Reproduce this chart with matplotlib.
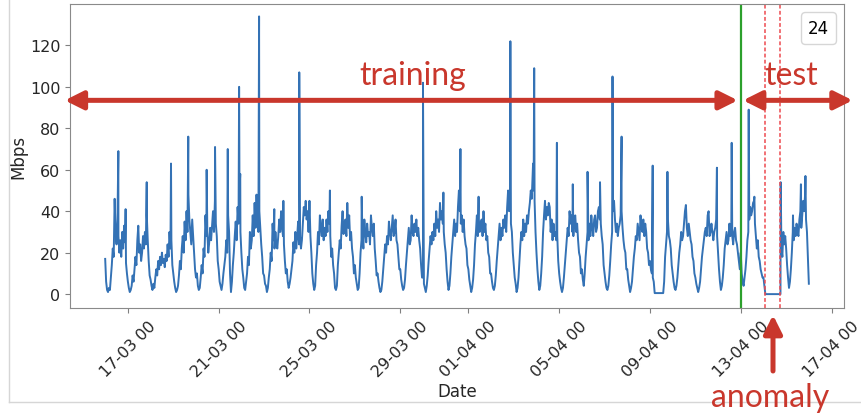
import matplotlib
matplotlib.use("Agg")
import matplotlib.pyplot as plt
import matplotlib.dates as mdates
from matplotlib.lines import Line2D
import pandas as pd

# traffic in Mbps, one row per day (16-03 .. 15-04), one value per hour
start_day = "2021-03-16"
hourly_mbps = [
    [17, 6, 2, 1, 3, 2, 8, 14, 22, 18, 46, 30, 24, 36, 28, 20, 26, 18, 30, 22, 33, 25, 15, 10],   # 16-03
    [6, 3, 1, 2, 4, 9, 6, 12, 18, 14, 26, 33, 20, 24, 16, 20, 28, 22, 30, 24, 38, 26, 16, 9],      # 17-03
    [7, 4, 2, 5, 3, 8, 12, 9, 16, 12, 18, 14, 20, 15, 17, 13, 19, 16, 24, 18, 30, 22, 26, 14],     # 18-03
    [10, 6, 3, 1, 2, 4, 9, 16, 12, 22, 28, 20, 35, 26, 40, 30, 48, 36, 30, 24, 36, 28, 20, 12],   # 19-03
    [8, 10, 4, 2, 3, 8, 14, 10, 22, 18, 38, 28, 30, 20, 25, 32, 26, 33, 40, 30, 45, 34, 28, 16],  # 20-03
    [12, 6, 4, 2, 5, 10, 14, 18, 26, 20, 38, 30, 10, 1, 6, 14, 20, 28, 35, 26, 42, 34, 50, 30],   # 21-03
    [20, 12, 8, 3, 2, 6, 10, 18, 14, 30, 22, 26, 38, 28, 44, 32, 48, 36, 30, 40, 32, 24, 18, 10], # 22-03
    [9, 5, 4, 1, 3, 8, 12, 20, 16, 34, 26, 22, 30, 24, 22, 28, 36, 30, 40, 32, 28, 24, 16, 10],   # 23-03
    [12, 6, 3, 5, 8, 12, 16, 25, 20, 30, 22, 28, 35, 24, 28, 22, 26, 34, 42, 38, 45, 36, 40, 30], # 24-03
    [45, 28, 20, 10, 5, 2, 4, 14, 20, 30, 24, 38, 32, 28, 36, 26, 32, 28, 36, 30, 40, 34, 28, 18],# 25-03
    [22, 14, 10, 3, 2, 4, 14, 20, 26, 22, 33, 40, 29, 34, 36, 28, 44, 32, 38, 26, 30, 22, 18, 10],# 26-03
    [14, 8, 5, 2, 3, 10, 20, 26, 28, 22, 36, 30, 25, 34, 28, 30, 24, 38, 32, 28, 34, 22, 16, 9],  # 27-03
    [10, 6, 3, 1, 2, 6, 12, 18, 24, 20, 28, 24, 35, 30, 26, 32, 38, 28, 30, 36, 26, 24, 18, 12],  # 28-03
    [12, 7, 4, 2, 3, 7, 14, 20, 26, 32, 24, 26, 38, 30, 28, 34, 30, 36, 28, 32, 26, 22, 14, 8],   # 29-03
    [8, 5, 3, 1, 4, 9, 16, 22, 28, 24, 30, 26, 34, 28, 40, 32, 36, 30, 44, 36, 40, 34, 30, 24],   # 30-03
    [20, 12, 6, 2, 4, 10, 18, 24, 30, 36, 28, 34, 30, 42, 50, 40, 34, 38, 30, 36, 28, 24, 22, 14],# 31-03
    [12, 7, 4, 1, 3, 7, 14, 24, 30, 38, 28, 36, 30, 34, 36, 28, 40, 30, 34, 26, 28, 20, 18, 10],  # 01-04
    [10, 6, 3, 2, 4, 9, 16, 22, 28, 34, 26, 32, 28, 36, 32, 38, 30, 42, 50, 40, 42, 34, 30, 20],  # 02-04
    [14, 8, 5, 1, 3, 8, 16, 24, 30, 26, 36, 28, 34, 30, 38, 34, 40, 44, 50, 46, 58, 50, 45, 30],  # 03-04
    [20, 12, 6, 2, 4, 10, 18, 30, 38, 45, 36, 42, 38, 44, 42, 30, 36, 26, 34, 28, 30, 26, 28, 16],# 04-04
    [10, 6, 3, 1, 3, 8, 14, 20, 26, 32, 28, 40, 34, 38, 30, 28, 36, 38, 30, 34, 26, 20, 18, 10],  # 05-04
    [12, 7, 4, 10, 18, 24, 30, 26, 34, 28, 38, 32, 28, 36, 38, 30, 32, 40, 42, 36, 34, 28, 24, 14],# 06-04
    [10, 6, 3, 2, 4, 9, 16, 24, 30, 40, 45, 36, 30, 34, 28, 32, 34, 38, 40, 32, 26, 22, 20, 12],  # 07-04
    [12, 7, 4, 1, 3, 6, 12, 18, 22, 28, 26, 34, 30, 26, 38, 32, 30, 36, 28, 34, 30, 22, 20, 14],  # 08-04
    [16, 12, 10, 8, 6, 0.5, 0.5, 0.5, 0.5, 0.5, 0.5, 0.5, 0.5, 0.5, 0.5, 6, 18, 24, 30, 36, 28, 26, 22, 14],  # 09-04
    [10, 6, 3, 2, 4, 8, 14, 20, 24, 30, 26, 28, 34, 40, 43, 32, 28, 34, 30, 26, 24, 18, 16, 10],  # 10-04
    [8, 5, 3, 1, 3, 6, 12, 18, 22, 26, 30, 32, 28, 38, 40, 28, 30, 34, 30, 26, 30, 32, 36, 28],   # 11-04
    [20, 12, 6, 2, 4, 8, 14, 22, 26, 30, 24, 26, 34, 28, 32, 28, 24, 30, 32, 26, 24, 20, 16, 12], # 12-04
    [20, 10, 6, 4, 8, 12, 18, 26, 30, 36, 42, 38, 40, 44, 45, 34, 28, 22, 26, 18, 16, 12, 10, 8], # 13-04
    [8, 4, 0, 0, 0, 0, 0, 0, 0, 0, 0, 0, 0, 0, 0, 0, 0, 0, 0, 22, 18, 30, 24, 28],                # 14-04
    [22, 14, 8, 3, 6, 12, 20, 30, 26, 32, 28, 34, 30, 28, 36, 40, 32, 38, 45, 40, 48, 36, 30, 18],# 15-04
]
last_value = 5  # 16-04 00

# short peaks, position in days after 16-03 00
spike_days = [0.58, 0.9, 1.83, 2.9, 3.66, 4.47, 4.84, 5.4, 5.9, 5.95, 6.78,
              7.45, 7.85, 8.55, 9.9, 11.3, 14.0, 14.9, 15.65, 16.45, 17.85,
              18.85, 18.9, 19.9, 20.6, 21.25, 21.8, 22.35, 22.75, 24.12,
              24.77, 26.95, 27.6, 28.35, 28.6, 29.76, 30.3, 30.65, 30.85]
spike_mbps = [69, 41, 54, 63, 76, 60, 71, 70, 100, 58, 134,
              41, 45, 107, 50, 47, 102, 49, 70, 47, 122,
              63, 109, 73, 53, 59, 54, 105, 76, 62,
              59, 61, 73, 89, 47, 54, 38, 53, 57]

split_day = 28.0          # 13-04 00, train/test
anomaly_days = [29.09, 29.75]

t0 = pd.Timestamp(start_day)


def day(d):
    return t0 + pd.Timedelta(days=d)


times, values = [], []
for d, row in enumerate(hourly_mbps):
    for h, v in enumerate(row):
        times.append(t0 + pd.Timedelta(days=d, hours=h))
        values.append(v)
times.append(day(len(hourly_mbps)))
values.append(last_value)
times += [day(d) for d in spike_days]
values += spike_mbps
series = pd.Series(values, index=pd.DatetimeIndex(times)).sort_index()

fig = plt.figure(figsize=(8.61, 4.14), dpi=100)
ax = fig.add_axes([0.0813, 0.2536, 0.8990, 0.7344])

ax.plot(series.index, series.values, color="#3472b5", linewidth=1.4, label="24")
ax.axvline(day(split_day), color="#2ca02c", linewidth=1.6)
for d in anomaly_days:
    ax.axvline(day(d), color="#ee4a50", linewidth=1.1, linestyle=(0, (2.5, 1.5)))

ax.set_ylim(-6.7, 140)
ax.set_yticks([0, 20, 40, 60, 80, 100, 120])
ax.xaxis.set_major_locator(mdates.DayLocator(bymonthday=[1, 5, 9, 13, 17, 21, 25, 29]))
ax.xaxis.set_major_formatter(mdates.DateFormatter("%d-%m %H"))
ax.tick_params(labelsize=11.5, colors="#262626")
ax.tick_params(color="#808080")
plt.setp(ax.get_xticklabels(), rotation=45)
for spine in ax.spines.values():
    spine.set_color("#8a8a8a")
ax.set_xlabel("Date", fontsize=12, color="#262626", labelpad=2)
ax.set_ylabel("Mbps", fontsize=12, color="#262626", labelpad=2)

ax.legend(handles=[Line2D([], [], linestyle="none")], labels=["24"],
          loc="upper right", handlelength=0, handletextpad=0, fontsize=12)

red = "#c9372c"
arrow_y = 93.5
head = "<|-|>,head_length=1.1,head_width=0.55"
ax.annotate("", xy=(day(-1.78), arrow_y), xytext=(day(27.87), arrow_y),
            arrowprops=dict(arrowstyle=head, color=red, lw=3.6, shrinkA=0, shrinkB=0),
            annotation_clip=False)
ax.annotate("", xy=(day(28.1), arrow_y), xytext=(day(32.93), arrow_y),
            arrowprops=dict(arrowstyle=head, color=red, lw=3.6, shrinkA=0, shrinkB=0),
            annotation_clip=False)
ax.text(day(13.57), 105.5, "training", color=red, fontsize=23, family="Lato",
        ha="center", va="center")
ax.text(day(30.24), 105.5, "test", color=red, fontsize=23, family="Lato",
        ha="center", va="center", clip_on=False)

fig.text(770 / 861, 1 - 398 / 414, "anomaly", color=red, fontsize=23, family="Lato",
         ha="center", va="center")
ax.annotate("", xy=(773 / 861, 1 - 316 / 414), xytext=(773 / 861, 1 - 372 / 414),
            xycoords="figure fraction", textcoords="figure fraction",
            arrowprops=dict(arrowstyle="-|>,head_length=1.1,head_width=0.55",
                            color=red, lw=3.6, shrinkA=0, shrinkB=0))

# light frame of the screenshot
fig.add_artist(Line2D([9 / 861, 9 / 861], [1.0, 1 - 403 / 414], color="#d6d6d6", lw=1))
fig.add_artist(Line2D([9 / 861, 1.0], [1 - 403 / 414, 1 - 403 / 414], color="#d6d6d6", lw=1))

fig.savefig("out.png", dpi=100)
